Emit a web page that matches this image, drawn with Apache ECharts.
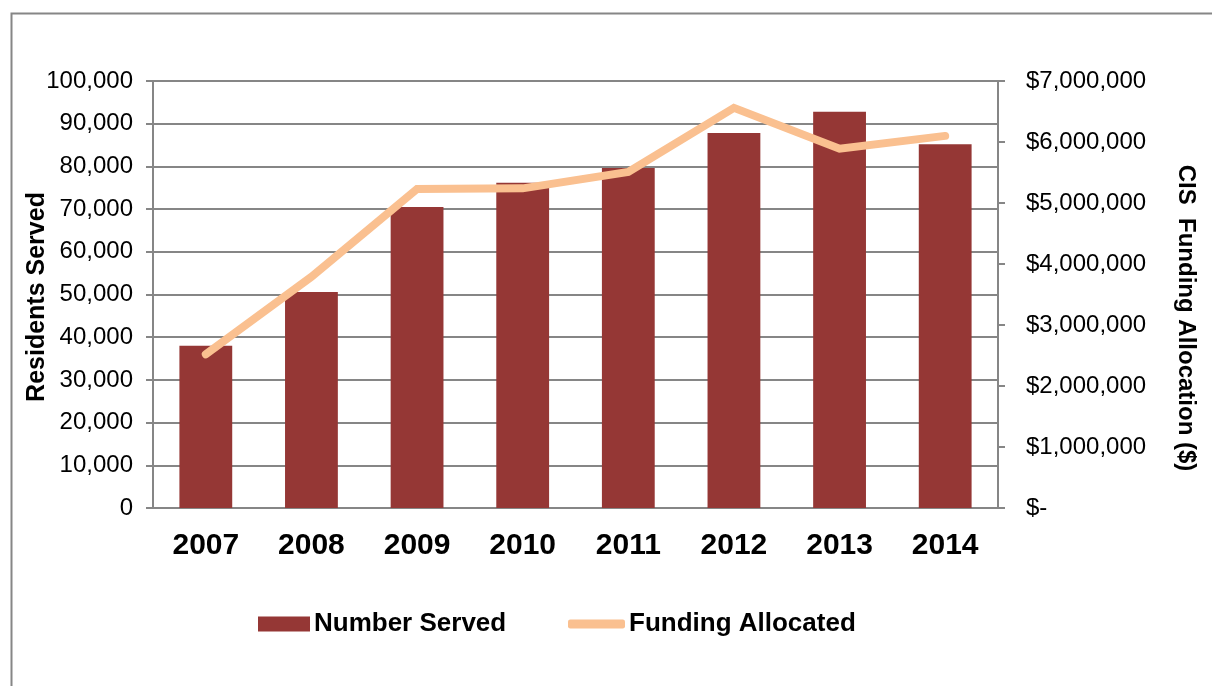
<!DOCTYPE html>
<html>
<head>
<meta charset="utf-8">
<script src="https://cdn.jsdelivr.net/npm/echarts@6/dist/echarts.min.js"></script>
<style>
html,body{margin:0;padding:0;background:#fff;}
#chart{width:1212px;height:686px;}
</style>
</head>
<body>
<div id="chart"></div>
<script>
const years = ['2007','2008','2009','2010','2011','2012','2013','2014'];
const numberServed = [38000, 50600, 70500, 76200, 79600, 87800, 92800, 85200];
const fundingAllocated = [2520000, 3790000, 5230000, 5240000, 5510000, 6560000, 5890000, 6100000];
const leftTicks = {min: 0, max: 100000, interval: 10000};
const rightTicks = {min: 0, max: 7000000, interval: 1000000};
const leftTitle = 'Residents Served';
const rightTitle = 'CIS  Funding Allocation ($)';

const grey = '#868686';
const font = '"Liberation Sans", Arial, sans-serif';
const legendText = {fontFamily: font, fontSize: 26, fontWeight: 'bold', color: '#000', padding: [0,0,0,-1]};
const chart = echarts.init(document.getElementById('chart'));
chart.setOption({
  backgroundColor: '#fff',
  animation: false,
  textStyle: {fontFamily: font, color: '#000'},
  graphic: [{
    type: 'rect', left: 9, top: 11,
    shape: {width: 1400, height: 900},
    style: {fill: 'none', stroke: grey, lineWidth: 2}
  }, {
    type: 'text', x: 37, y: 297, rotation: Math.PI / 2,
    style: {text: leftTitle, font: 'bold 25px ' + font, fill: '#000',
      textAlign: 'center', textVerticalAlign: 'middle'}
  }, {
    type: 'text', x: 1186, y: 318, rotation: -Math.PI / 2,
    style: {text: rightTitle, font: 'bold 24px ' + font, fill: '#000',
      textAlign: 'center', textVerticalAlign: 'middle'}
  }],
  grid: {left: 153, right: 214, top: 81, bottom: 178, containLabel: false},
  legend: [{
    left: 253, top: 606,
    itemWidth: 52, itemHeight: 15,
    textStyle: legendText,
    data: [{name: 'Number Served', icon: 'rect'}]
  }, {
    left: 563, top: 606,
    itemWidth: 57, itemHeight: 9,
    textStyle: legendText,
    data: [{name: 'Funding Allocated', icon: 'roundRect'}]
  }],
  xAxis: {
    type: 'category', data: years,
    axisLine: {lineStyle: {color: grey, width: 2}},
    axisTick: {show: false},
    axisLabel: {fontFamily: font, fontSize: 30, fontWeight: 'bold', color: '#000', margin: 23}
  },
  yAxis: [{
    type: 'value', min: leftTicks.min, max: leftTicks.max, interval: leftTicks.interval,
    axisLine: {show: true, lineStyle: {color: grey, width: 2}},
    axisTick: {show: true, length: 7, lineStyle: {color: grey, width: 2}},
    splitLine: {show: true, lineStyle: {color: grey, width: 2}},
    axisLabel: {fontFamily: font, fontSize: 24, color: '#000', margin: 20,
      formatter: v => v.toLocaleString('en-US')}
  }, {
    type: 'value', position: 'right', min: rightTicks.min, max: rightTicks.max, interval: rightTicks.interval,
    axisLine: {show: true, lineStyle: {color: grey, width: 2}},
    axisTick: {show: true, length: 7, lineStyle: {color: grey, width: 2}},
    splitLine: {show: false},
    axisLabel: {fontFamily: font, fontSize: 24, color: '#000', margin: 28,
      formatter: v => v === 0 ? '$-' : '$' + v.toLocaleString('en-US')}
  }],
  series: [{
    name: 'Number Served', type: 'bar', yAxisIndex: 0,
    data: numberServed, barWidth: '50%',
    itemStyle: {color: '#953735'}
  }, {
    name: 'Funding Allocated', type: 'line', yAxisIndex: 1,
    data: fundingAllocated, symbol: 'none', showSymbol: false,
    lineStyle: {color: '#FAC090', width: 8, cap: 'round', join: 'miter'},
    itemStyle: {color: '#FAC090'}
  }]
});
</script>
</body>
</html>
